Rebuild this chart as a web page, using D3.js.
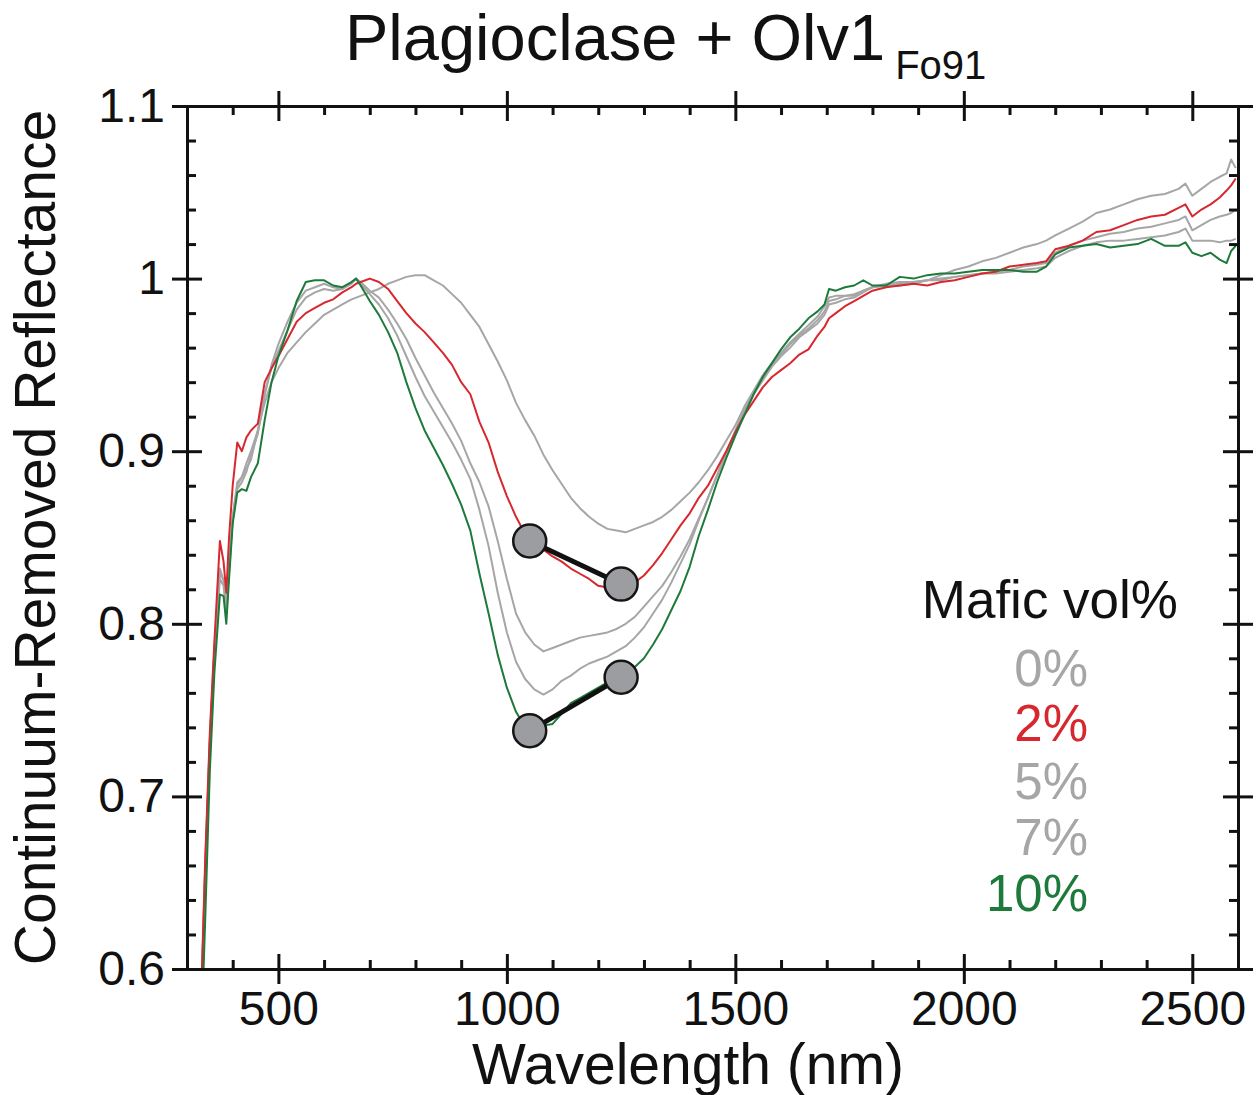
<!DOCTYPE html>
<html>
<head>
<meta charset="utf-8">
<script src="https://cdn.jsdelivr.net/npm/d3@7"></script>
<style>
  body { margin: 0; background: #fff; }
  svg text { font-family: "Liberation Sans", Arial, Helvetica, sans-serif; fill: #111; }
</style>
</head>
<body>
<div id="chart"></div>
<script>
// wavelength grid (nm) shared by all spectra
var wavelength = [
  330, 340, 350, 360, 372, 380, 386, 392, 400, 410,
  420, 430, 440, 455, 470, 485, 500, 520, 540, 560,
  580, 600, 620, 640, 660, 670, 680, 700, 720, 740,
  760, 780, 800, 820, 840, 860, 880, 900, 920, 940,
  960, 980, 1000, 1020, 1040, 1060, 1080, 1100, 1120, 1140,
  1160, 1180, 1200, 1220, 1240, 1260, 1280, 1300, 1320, 1340,
  1360, 1380, 1400, 1420, 1440, 1460, 1480, 1500, 1520, 1540,
  1560, 1580, 1600, 1620, 1640, 1660, 1680, 1695, 1705, 1720,
  1740, 1760, 1780, 1800, 1830, 1860, 1890, 1920, 1950, 1980,
  2010, 2040, 2070, 2100, 2130, 2160, 2180, 2200, 2230, 2260,
  2290, 2320, 2350, 2380, 2410, 2440, 2470, 2485, 2500, 2520,
  2540, 2560, 2575, 2585, 2595
];

// continuum-removed reflectance, one array per mafic vol%
var mafic0 = [
  0.575, 0.660, 0.733, 0.785, 0.830, 0.825, 0.810, 0.835, 0.862, 0.880,
  0.885, 0.890, 0.895, 0.912, 0.928, 0.940, 0.948, 0.957, 0.963, 0.969,
  0.974, 0.979, 0.982, 0.985, 0.988, 0.989, 0.990, 0.992, 0.994, 0.997,
  0.999, 1.001, 1.002, 1.002, 0.999, 0.996, 0.991, 0.986, 0.979, 0.972,
  0.962, 0.952, 0.941, 0.928, 0.918, 0.909, 0.898, 0.889, 0.881, 0.873,
  0.867, 0.862, 0.858, 0.855, 0.854, 0.853, 0.855, 0.857, 0.859, 0.862,
  0.866, 0.871, 0.876, 0.882, 0.889, 0.897, 0.906, 0.915, 0.926, 0.935,
  0.944, 0.951, 0.957, 0.963, 0.968, 0.973, 0.978, 0.984, 0.989, 0.990,
  0.990, 0.991, 0.993, 0.995, 0.996, 0.997, 0.998, 0.999, 1.002, 1.005,
  1.007, 1.010, 1.012, 1.015, 1.018, 1.020, 1.022, 1.025, 1.029, 1.033,
  1.038, 1.040, 1.043, 1.046, 1.048, 1.049, 1.052, 1.055, 1.048, 1.052,
  1.056, 1.059, 1.061, 1.069, 1.064
];
var mafic2 = [
  0.575, 0.665, 0.737, 0.790, 0.848, 0.836, 0.818, 0.850, 0.880, 0.905,
  0.900, 0.908, 0.912, 0.916, 0.940, 0.948, 0.955, 0.965, 0.975, 0.980,
  0.983, 0.986, 0.988, 0.992, 0.995, 0.997, 0.998, 1.000, 0.998, 0.994,
  0.987, 0.980, 0.974, 0.969, 0.963, 0.957, 0.950, 0.940, 0.933, 0.917,
  0.905, 0.888, 0.874, 0.862, 0.852, 0.846, 0.843, 0.839, 0.836, 0.832,
  0.829, 0.826, 0.822, 0.821, 0.822, 0.822, 0.824, 0.828, 0.834, 0.841,
  0.849, 0.857, 0.864, 0.873, 0.880, 0.890, 0.900, 0.911, 0.921, 0.929,
  0.937, 0.943, 0.947, 0.951, 0.956, 0.959, 0.967, 0.972, 0.977, 0.980,
  0.984, 0.987, 0.990, 0.993, 0.995, 0.996, 0.997, 0.996, 0.998, 0.999,
  1.001, 1.003, 1.004, 1.007, 1.008, 1.009, 1.010, 1.017, 1.019, 1.022,
  1.027, 1.028, 1.031, 1.034, 1.036, 1.037, 1.041, 1.043, 1.036, 1.040,
  1.043, 1.047, 1.051, 1.054, 1.058
];
var mafic5 = [
  0.572, 0.660, 0.733, 0.786, 0.832, 0.825, 0.808, 0.832, 0.862, 0.882,
  0.885, 0.893, 0.900, 0.912, 0.934, 0.948, 0.958, 0.970, 0.982, 0.989,
  0.992, 0.994, 0.993, 0.994, 0.997, 1.000, 0.998, 0.993, 0.989, 0.982,
  0.974, 0.965, 0.954, 0.944, 0.934, 0.925, 0.916, 0.906, 0.893, 0.882,
  0.868, 0.848, 0.826, 0.806, 0.795, 0.788, 0.784, 0.786, 0.788, 0.790,
  0.792, 0.793, 0.794, 0.795, 0.797, 0.800, 0.804, 0.810, 0.816, 0.822,
  0.830, 0.839, 0.849, 0.861, 0.873, 0.886, 0.899, 0.912, 0.924, 0.934,
  0.942, 0.950, 0.956, 0.962, 0.967, 0.971, 0.976, 0.981, 0.987, 0.988,
  0.990, 0.990, 0.993, 0.995, 0.996, 0.996, 0.997, 0.999, 0.999, 1.001,
  1.002, 1.003, 1.004, 1.005, 1.007, 1.008, 1.009, 1.015, 1.019, 1.022,
  1.024, 1.026, 1.027, 1.029, 1.030, 1.032, 1.034, 1.036, 1.028, 1.031,
  1.034, 1.036, 1.037, 1.038, 1.040
];
var mafic7 = [
  0.570, 0.655, 0.730, 0.782, 0.826, 0.822, 0.806, 0.830, 0.860, 0.878,
  0.882, 0.888, 0.898, 0.910, 0.932, 0.950, 0.962, 0.975, 0.986, 0.993,
  0.995, 0.997, 0.995, 0.994, 0.998, 1.000, 0.997, 0.991, 0.985, 0.977,
  0.967, 0.955, 0.943, 0.932, 0.923, 0.914, 0.905, 0.895, 0.884, 0.866,
  0.845, 0.818, 0.795, 0.778, 0.768, 0.762, 0.759, 0.762, 0.767, 0.770,
  0.774, 0.777, 0.779, 0.781, 0.784, 0.787, 0.792, 0.798, 0.806, 0.814,
  0.824, 0.835, 0.846, 0.860, 0.873, 0.886, 0.899, 0.911, 0.923, 0.933,
  0.941, 0.949, 0.955, 0.960, 0.966, 0.970, 0.974, 0.979, 0.985, 0.986,
  0.988, 0.989, 0.992, 0.995, 0.997, 0.998, 0.998, 0.999, 1.000, 1.001,
  1.002, 1.003, 1.003, 1.004, 1.005, 1.006, 1.007, 1.012, 1.016, 1.019,
  1.021, 1.022, 1.022, 1.023, 1.024, 1.025, 1.027, 1.029, 1.022, 1.022,
  1.022, 1.021, 1.022, 1.022, 1.023
];
var mafic10 = [
  0.550, 0.630, 0.715, 0.772, 0.817, 0.816, 0.800, 0.826, 0.858, 0.876,
  0.878, 0.877, 0.885, 0.893, 0.918, 0.940, 0.955, 0.970, 0.987, 0.998,
  0.999, 0.999, 0.996, 0.995, 0.998, 1.000, 0.996, 0.987, 0.979, 0.969,
  0.957, 0.940, 0.925, 0.912, 0.902, 0.892, 0.881, 0.869, 0.854, 0.829,
  0.806, 0.782, 0.763, 0.749, 0.740, 0.741, 0.741, 0.742, 0.748, 0.754,
  0.757, 0.760, 0.763, 0.766, 0.768, 0.771, 0.775, 0.780, 0.788, 0.797,
  0.808, 0.819, 0.833, 0.851, 0.866, 0.882, 0.896, 0.909, 0.921, 0.933,
  0.943, 0.951, 0.959, 0.966, 0.971, 0.977, 0.981, 0.985, 0.994, 0.993,
  0.995, 0.996, 0.999, 0.996, 0.996, 1.001, 1.000, 1.002, 1.003, 1.003,
  1.004, 1.005, 1.005, 1.005, 1.004, 1.004, 1.007, 1.014, 1.018, 1.019,
  1.020, 1.018, 1.019, 1.020, 1.023, 1.019, 1.019, 1.021, 1.015, 1.013,
  1.015, 1.011, 1.009, 1.016, 1.019
];

var seriesLabels = ["0%", "2%", "5%", "7%", "10%"];
var seriesColors = ["#a6a6a6", "#d6282e", "#a6a6a6", "#a6a6a6", "#1d7a3a"];

// band centres marked with circles (nm) and their reflectance
var bandCenters = [1050, 1250];
var band2pct = [0.848, 0.823];
var band10pct = [0.738, 0.769];

var xMajor = [500, 1000, 1500, 2000, 2500];
var yMajor = [0.6, 0.7, 0.8, 0.9, 1.0, 1.1];
var yTickLabels = ["0.6", "0.7", "0.8", "0.9", "1", "1.1"];

var W = 1259, H = 1095;
var margin = { top: 106, right: 21, bottom: 126, left: 187 };
var width = W - margin.left - margin.right;
var height = H - margin.top - margin.bottom;

var svg = d3.select("#chart").append("svg")
  .attr("width", W)
  .attr("height", H);

var g = svg.append("g")
  .attr("transform", "translate(" + margin.left + "," + margin.top + ")");

var x = d3.scaleLinear().domain([300, 2600]).range([0, width]);
var y = d3.scaleLinear().domain([0.6, 1.1]).range([height, 0]);

var xMinor = d3.range(400, 2600, 100).filter(function (d) { return d % 500 !== 0; });
var yMinor = d3.range(31, 55).filter(function (d) { return d % 5 !== 0; }).map(function (d) { return d / 50; });

g.append("clipPath").attr("id", "plotclip")
  .append("rect").attr("width", width).attr("height", height);

// spectra, greys underneath
var allSeries = [mafic0, mafic2, mafic5, mafic7, mafic10];
var drawOrder = [0, 2, 3, 1, 4];
var line = d3.line()
  .x(function (d) { return x(d[0]); })
  .y(function (d) { return y(d[1]); });

var lines = g.append("g").attr("clip-path", "url(#plotclip)");
drawOrder.forEach(function (i) {
  var pts = wavelength.map(function (w, k) { return [w, allSeries[i][k]]; });
  lines.append("path")
    .datum(pts)
    .attr("fill", "none")
    .attr("stroke", seriesColors[i])
    .attr("stroke-width", 2)
    .attr("stroke-linejoin", "round")
    .attr("d", line);
});

// band centre markers
[band2pct, band10pct].forEach(function (vals) {
  var pts = bandCenters.map(function (c, k) { return [c, vals[k]]; });
  g.append("path").datum(pts)
    .attr("fill", "none")
    .attr("stroke", "#111")
    .attr("stroke-width", 5)
    .attr("d", line);
  g.selectAll(null).data(pts).enter().append("circle")
    .attr("cx", function (d) { return x(d[0]); })
    .attr("cy", function (d) { return y(d[1]); })
    .attr("r", 16.5)
    .attr("fill", "#9b9da0")
    .attr("stroke", "#151515")
    .attr("stroke-width", 2.5);
});

// axes: major ticks cross the frame, minor ticks point inward
function styleAxis(sel) {
  sel.selectAll(".domain").attr("stroke", "#111").attr("stroke-width", 3);
  sel.selectAll(".tick line").attr("stroke", "#111").attr("stroke-width", 3);
  sel.selectAll("text").attr("fill", "#111").style("font-size", "48px")
    .style("font-family", "'Liberation Sans', Arial, sans-serif");
}

var axes = [
  { gen: d3.axisBottom, tr: "translate(0," + height + ")", scale: x, major: xMajor, minor: xMinor, labels: true },
  { gen: d3.axisTop, tr: "translate(0,0)", scale: x, major: xMajor, minor: xMinor, labels: false },
  { gen: d3.axisLeft, tr: "translate(0,0)", scale: y, major: yMajor, minor: yMinor, labels: true },
  { gen: d3.axisRight, tr: "translate(" + width + ",0)", scale: y, major: yMajor, minor: yMinor, labels: false }
];

axes.forEach(function (a) {
  var outer = a.gen(a.scale).tickValues(a.major).tickSize(15).tickSizeOuter(0).tickPadding(7);
  if (a.labels) {
    if (a.scale === y) outer.tickFormat(function (d, i) { return yTickLabels[i]; });
    else outer.tickFormat(d3.format("d"));
  } else {
    outer.tickFormat("");
  }
  g.append("g").attr("transform", a.tr).call(outer).call(styleAxis);

  var inner = a.gen(a.scale).tickValues(a.major).tickSize(-15).tickSizeOuter(0).tickFormat("");
  g.append("g").attr("transform", a.tr).call(inner).call(styleAxis);

  var minor = a.gen(a.scale).tickValues(a.minor).tickSize(-9).tickSizeOuter(0).tickFormat("");
  g.append("g").attr("transform", a.tr).call(minor).call(styleAxis);
});

// titles
var title = svg.append("text")
  .attr("x", 345)
  .attr("y", 60)
  .style("font-size", "65px");
title.append("tspan").text("Plagioclase + Olv1");
title.append("tspan").attr("dx", 10).attr("dy", 19).style("font-size", "40px").text("Fo91");

svg.append("text")
  .attr("x", 688)
  .attr("y", 1084)
  .attr("text-anchor", "middle")
  .style("font-size", "57px")
  .text("Wavelength (nm)");

svg.append("text")
  .attr("transform", "translate(55," + (margin.top + height / 2) + ") rotate(-90)")
  .attr("text-anchor", "middle")
  .style("font-size", "57px")
  .text("Continuum-Removed Reflectance");

// legend
svg.append("text")
  .attr("x", 1178)
  .attr("y", 618)
  .attr("text-anchor", "end")
  .style("font-size", "53px")
  .text("Mafic vol%");

var legendY = [686, 741, 799, 855, 911];
svg.selectAll(".legend-item").data(seriesLabels).enter().append("text")
  .attr("class", "legend-item")
  .attr("x", 1088)
  .attr("y", function (d, i) { return legendY[i]; })
  .attr("text-anchor", "end")
  .style("font-size", "51px")
  .style("fill", function (d, i) { return seriesColors[i]; })
  .text(function (d) { return d; });
</script>
</body>
</html>
